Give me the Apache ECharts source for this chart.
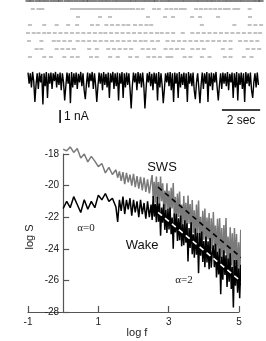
<!DOCTYPE html>
<html><head><meta charset="utf-8">
<script src="https://cdn.jsdelivr.net/npm/echarts@6/dist/echarts.min.js"></script>
<style>html,body{margin:0;padding:0;background:#fff}#c{width:266px;height:341px}</style>
</head><body><div id="c"></div>
<script>
// ---- Raster: spike times (s) per row ----
const spikeRow1 = [0.0,0.22,0.5,0.74,0.98,1.25,1.5,1.72,2.0,2.24,2.5,2.76,3.0,3.22,3.48,3.75,4.0,4.24,4.5,4.74,5.0,5.26,5.5,5.74,6.0,6.25,6.5,6.72,7.0,7.26,7.5,7.75,8.0,8.24,8.5,8.76,9.0,9.25,9.5,9.74,10.0,10.26,10.5,10.75,11.0,11.24,11.5,11.76,12.0,12.2];
const spikeRow2 = [0.25,0.55,0.75,2.3,2.5,2.7,2.9,3.1,3.3,3.5,3.7,3.9,4.1,4.3,4.5,4.7,4.9,5.1,5.3,5.5,5.75,6.0,6.6,6.85,7.25,7.5,7.75,8.0,8.2,8.8,9.05,9.3,9.55,9.8,10.05,10.3,10.5,10.8,11.0,11.6];
const spikeRow3 = [2.62,3.77,4.29,6.28,7.17,7.59,8.59,9.0,9.95,11.62];
const spikeRow4 = [0.1,0.85,1.5,2.1,2.57,3.35,3.65,4.1,4.4,4.7,5.0,5.25,5.6,5.9,6.2,6.45,9.1,10.8,11.6,11.9,12.2];
const spikeRow5 = [0.0,0.3,0.55,0.85,1.1,1.4,1.7,2.0,2.3,2.6,2.9,3.2,3.5,3.8,4.05,4.35,4.65,4.95,5.25,5.55,5.85,6.15,6.45,6.75,7.0,7.3,7.6,8.1,8.6,8.9,9.2,9.5,9.8,10.1,10.4,10.7,11.0,11.3,11.6,11.9,12.15];
const spikeRow6 = [0.05,0.7,1.35,1.6,1.9,2.2,2.6,2.9,3.2,3.5,3.8,4.1,4.4,4.7,5.0,5.3,5.6,5.9,6.15,6.5,6.8,7.3,7.6,7.9,8.2,8.5,8.8,9.1,9.4,9.7,10.0,10.3,10.6,11.1,11.4,11.7,12.0];
const spikeRow7 = [0.45,0.7,1.5,1.8,2.1,2.4,3.2,3.6,4.2,4.5,4.8,5.1,5.4,6.0,6.3,6.6,7.2,7.5,7.8,8.1,8.6,8.9,9.2,10.2,10.6,11.5,11.8,12.1];
const spikeRow8 = [0.1,0.85,1.2,1.9,2.3,2.6,3.3,3.6,4.3,4.7,5.35,5.7,6.3,6.6,6.9,7.3,7.5,8.2,8.5,9.1,9.5,10.3,10.6,11.3,11.7];

// ---- Current trace (nA), sampled every traceDt seconds ----
const traceDt = 0.06;
const traceNA = [
-0.05,-0.9,-0.1,-1.2,-0.0,-0.7,-2.3,-1.0,-0.1,-1.3,
-0.05,-0.8,-0.15,-2.5,-0.1,-1.1,-0.0,-2.0,-0.1,-0.9,
-0.05,-1.3,-0.1,-0.7,-0.0,-1.2,-0.15,-1.0,-0.05,-1.4,
-0.1,-0.8,-2.2,-1.1,-0.05,-0.9,-0.1,-2.4,-0.0,-1.2,
-0.1,-1.0,-0.05,-1.3,-0.15,-0.8,-0.0,-1.1,-0.1,-1.4,
-2.1,-0.9,-0.05,-1.2,-0.1,-0.7,-0.0,-1.3,-0.1,-1.0,
-2.3,-1.1,-0.05,-0.9,-0.1,-1.4,-0.0,-1.0,-0.15,-1.2,
-0.05,-2.0,-0.1,-0.8,-0.0,-1.3,-0.1,-1.1,-0.05,-2.2,
-0.1,-0.9,-0.0,-2.0,-0.1,-1.2,-0.05,-1.0,-0.1,-1.3,
-2.8,-1.1,-0.05,-0.8,-0.1,-1.4,-0.0,-0.9,-0.1,-1.2,
-0.05,-1.0,-2.8,-1.3,-0.1,-0.8,-0.0,-1.1,-0.15,-1.4,
-0.05,-0.9,-0.1,-2.2,-0.0,-1.2,-0.1,-1.0,-2.4,-1.3,
-0.1,-0.8,-0.05,-1.1,-0.0,-1.4,-0.1,-2.3,-0.05,-0.9,
-0.1,-2.0,-0.0,-1.2,-0.15,-1.0,-0.05,-1.3,-0.1,-2.3,
-0.0,-0.9,-0.1,-1.1,-0.05,-1.4,-2.1,-0.8,-0.1,-1.2,
-2.4,-1.0,-0.05,-1.3,-0.1,-0.9,-0.0,-2.3,-0.1,-1.1,
-0.05,-1.4,-0.1,-0.8,-0.0,-1.2,-2.2,-1.0,-0.1,-1.3,
-0.05,-0.9,-0.1,-1.1,-0.0,-1.4,-0.15,-0.8,-0.05,-2.0,
-0.1,-1.2,-0.0,-2.2,-0.1,-1.0,-0.05,-1.3,-0.1,-2.3,
-0.0,-0.9,-0.1,-1.1,-0.05,-1.4,-2.0,-0.8,-0.1,-1.2,
-0.05,-1.0];
const scaleNA = 1;     // nA
const scaleSec = 2;    // s
const scaleAnchorT = 1.68, scaleAnchorV = -2.93, secBarStart = 10.15;

// ---- Power spectra ----
const logF = [
0,0.1,0.2,0.3,0.4,0.5,0.6,0.7,0.8,0.9,1.0,1.1,1.2,1.3,1.4,1.5,
1.55,1.6,1.65,1.7,1.75,1.8,1.85,1.9,1.95,2.0,2.05,2.1,2.15,2.2,2.25,2.3,2.35,2.4,2.45,2.5,
2.53,2.56,2.59,2.62,2.65,2.68,2.71,2.74,2.77,2.80,
2.83,2.86,2.89,2.92,2.95,2.98,3.01,3.04,3.07,3.10,
3.13,3.16,3.19,3.22,3.25,3.28,3.31,3.34,3.37,3.40,
3.43,3.46,3.49,3.52,3.55,3.58,3.61,3.64,3.67,3.70,
3.73,3.76,3.79,3.82,3.85,3.88,3.91,3.94,3.97,4.00,
4.03,4.06,4.09,4.12,4.15,4.18,4.21,4.24,4.27,4.30,
4.33,4.36,4.39,4.42,4.45,4.48,4.51,4.54,4.57,4.60,
4.63,4.66,4.69,4.72,4.75,4.78,4.81,4.84,4.87,4.90,
4.93,4.96,4.99,5.02,5.05,5.08,5.11,5.14,5.17,5.20,
5.23,5.26,5.29,5.32,5.35,5.38,5.41,5.44,5.47,5.50,
5.53,5.56,5.59,5.62,5.65,5.68,5.71];
const sws = [
-17.7,-17.8,-17.55,-17.9,-17.65,-18.25,-18.0,-18.5,-18.15,-18.45,-18.8,-18.6,-19.2,-18.85,-19.3,-19.0,
-19.5,-19.1,-19.7,-19.15,-19.9,-19.2,-19.8,-19.3,-20.0,-19.25,-20.1,-19.4,-20.2,-19.45,-20.3,-19.5,-20.4,-19.6,-20.5,-19.7,
-19.33,-20.79,-19.76,-21.08,-19.42,-20.86,-19.77,-21.24,-19.42,-20.99,
-19.86,-21.56,-20.32,-21.50,-19.86,-21.51,-20.33,-22.00,-20.14,-21.44,
-19.83,-22.04,-20.71,-22.26,-20.50,-21.98,-20.38,-22.40,-21.20,-22.83,
-20.66,-22.41,-21.09,-22.85,-20.63,-22.42,-21.16,-22.97,-20.92,-22.99,
-21.56,-23.44,-21.20,-22.98,-20.95,-23.44,-21.97,-23.67,-21.60,-23.43,
-21.45,-23.90,-22.02,-23.41,-21.73,-24.39,-22.07,-24.01,-21.67,-23.87,
-22.53,-24.49,-22.10,-24.21,-22.06,-24.60,-22.68,-24.98,-22.50,-24.30,
-22.05,-24.95,-23.23,-25.20,-22.64,-25.04,-23.01,-25.57,-22.68,-24.98,
-23.06,-25.66,-23.58,-25.64,-22.80,-25.47,-23.61,-26.31,-23.27,-25.39,
-23.20,-26.26,-23.75,-26.07,-23.08,-26.33,-24.24,-26.75,-23.87,-26.09,
-23.64,-26.84,-24.36,-26.64,-23.98,-27.24,-24.40];
const wake = [
-21.45,-21.0,-21.4,-20.7,-21.2,-21.7,-20.9,-21.5,-21.0,-21.4,-20.6,-20.9,-20.5,-21.0,-20.8,-21.35,
-22.3,-20.9,-21.6,-20.7,-21.8,-20.9,-21.5,-20.8,-21.9,-20.9,-21.7,-21.0,-22.0,-20.9,-21.8,-21.1,-22.1,-21.0,-22.0,-21.2,
-22.17,-20.66,-21.96,-21.16,-22.32,-20.71,-22.28,-21.13,-23.17,-21.39,
-22.35,-21.18,-22.80,-21.52,-23.00,-21.46,-22.78,-21.39,-23.07,-22.02,
-24.00,-21.77,-22.96,-21.78,-23.51,-22.07,-23.46,-21.90,-23.84,-22.45,
-23.78,-22.20,-23.62,-22.38,-24.81,-22.68,-23.94,-22.32,-24.34,-23.08,
-24.56,-22.71,-24.38,-22.99,-25.54,-23.00,-24.43,-22.91,-24.84,-23.51,
-25.16,-23.22,-24.87,-23.52,-25.29,-23.32,-25.20,-24.24,-23.79,-25.17,
-23.68,-25.81,-24.19,-25.62,-23.99,-26.88,-24.51,-25.96,-24.09,-25.65,
-24.41,-26.41,-24.62,-26.09,-24.29,-26.54,-25.16,-27.71,-24.71,-26.33,
-24.71,-26.78,-25.25,-27.13,-25.01,-26.45,-24.77,-27.26,-25.46,-27.02,
-25.22,-28.39,-25.90,-27.38,-25.54,-27.85,-25.76,-27.37,-25.51,-27.97,
-26.20,-28.88,-25.95,-27.59,-25.92,-28.20,-26.39];
const fitX = [2.7, 5.7];
const fitSWS = [-20.1, -25.75];
const fitWake = [-21.7, -27.25];
const yTicks = {min: -28, max: -18, step: 2};
const xTicks = {min: -1, max: 5, step: 2};

// ---- build ----
const SANS = "'Liberation Sans', Arial, Helvetica, sans-serif";
const SERIF = "'Liberation Serif', 'Times New Roman', serif";
const AX = '#555';
const GRID_L = 28, GRID_R = 27;
const plotW = 266 - GRID_L - GRID_R;
const yAxisShift = -plotW * (0 - xTicks.min) / (xTicks.max - xTicks.min); // y axis sits at log f = 0
const rows = [spikeRow1, spikeRow2, spikeRow3, spikeRow4, spikeRow5, spikeRow6, spikeRow7, spikeRow8];
const series = [];
rows.forEach((r, i) => {
  series.push({
    type: 'scatter', xAxisIndex: 0, yAxisIndex: 0, silent: true,
    symbol: 'rect', symbolSize: i === 0 ? [5, 1.5] : [4, 1],
    itemStyle: {color: i === 0 ? '#333' : '#666'},
    data: r.map(t => [t, i + 1])
  });
});
series.push({
  type: 'line', xAxisIndex: 1, yAxisIndex: 1, showSymbol: false, silent: true,
  lineStyle: {color: '#000', width: 1.4}, data: traceNA.map((v, k) => [k * traceDt, v])
});
series.push({
  type: 'line', xAxisIndex: 1, yAxisIndex: 1, showSymbol: false, clip: false, silent: true,
  lineStyle: {color: '#000', width: 1.5},
  data: [[scaleAnchorT, scaleAnchorV], [scaleAnchorT, scaleAnchorV - scaleNA]]
});
series.push({
  type: 'line', xAxisIndex: 1, yAxisIndex: 1, showSymbol: false, clip: false, silent: true,
  lineStyle: {color: '#000', width: 1.5},
  data: [[secBarStart, scaleAnchorV], [secBarStart + scaleSec, scaleAnchorV]]
});
series.push({
  type: 'line', xAxisIndex: 2, yAxisIndex: 2, showSymbol: false, clip: false, silent: true,
  lineStyle: {color: '#7a7a7a', width: 1.5}, data: logF.map((f, i) => [f, sws[i]])
});
series.push({
  type: 'line', xAxisIndex: 2, yAxisIndex: 2, showSymbol: false, clip: false, silent: true,
  lineStyle: {color: '#000', width: 1.5}, data: logF.map((f, i) => [f, wake[i]])
});
series.push({
  type: 'line', xAxisIndex: 2, yAxisIndex: 2, showSymbol: false, clip: false, silent: true,
  lineStyle: {color: '#000', width: 1.6, type: [5, 4]}, data: fitX.map((f, i) => [f, fitSWS[i]])
});
series.push({
  type: 'line', xAxisIndex: 2, yAxisIndex: 2, showSymbol: false, clip: false, silent: true,
  lineStyle: {color: '#fff', width: 1.6, type: [5, 4]}, data: fitX.map((f, i) => [f, fitWake[i]])
});

const hidden = {show: false};
const option = {
  animation: false,
  grid: [
    {left: 28, top: 1, width: 235, height: 56},
    {left: 28, top: 70, width: 235, height: 39},
    {left: GRID_L, right: GRID_R, top: 154, bottom: 29}
  ],
  xAxis: [
    {gridIndex: 0, type: 'value', min: 0, max: 12.3, show: false},
    {gridIndex: 1, type: 'value', min: 0, max: 12.3, show: false},
    {gridIndex: 2, type: 'value', min: xTicks.min, max: xTicks.max, interval: xTicks.step,
     axisLine: {show: true, onZero: false, lineStyle: {color: AX, width: 1.2}},
     axisTick: {show: true, inside: true, length: 6, lineStyle: {color: AX, width: 1.2}},
     axisLabel: {margin: 5, fontSize: 10, color: '#222', fontFamily: SANS},
     splitLine: hidden}
  ],
  yAxis: [
    {gridIndex: 0, type: 'value', min: 1, max: 8, inverse: true, show: false},
    {gridIndex: 1, type: 'value', min: -2.85, max: 0.15, show: false},
    {gridIndex: 2, type: 'value', min: yTicks.min, max: yTicks.max, interval: yTicks.step,
     offset: yAxisShift,
     axisLine: {show: true, onZero: false, lineStyle: {color: AX, width: 1.2}},
     axisTick: {show: true, inside: true, length: 6, lineStyle: {color: AX, width: 1.2}},
     axisLabel: {margin: 4, fontSize: 10, color: '#222', fontFamily: SANS},
     splitLine: hidden}
  ],
  graphic: [
    {type: 'text', x: 64, y: 117, style: {text: '1 nA', font: '12px ' + SANS, fill: '#111', align: 'left', verticalAlign: 'middle'}},
    {type: 'text', x: 241, y: 121, style: {text: '2 sec', font: '12px ' + SANS, fill: '#111', align: 'center', verticalAlign: 'middle'}},
    {type: 'text', x: 162, y: 167, style: {text: 'SWS', font: '13px ' + SANS, fill: '#111', align: 'center', verticalAlign: 'middle'}},
    {type: 'text', x: 142, y: 245, style: {text: 'Wake', font: '13px ' + SANS, fill: '#111', align: 'center', verticalAlign: 'middle'}},
    {type: 'text', x: 86, y: 228, style: {text: 'α=0', font: '11px ' + SERIF, fill: '#222', align: 'center', verticalAlign: 'middle'}},
    {type: 'text', x: 184, y: 280, style: {text: 'α=2', font: '11px ' + SERIF, fill: '#222', align: 'center', verticalAlign: 'middle'}},
    {type: 'text', x: 30, y: 237, rotation: Math.PI / 2, style: {text: 'log S', font: '11px ' + SANS, fill: '#222', align: 'center', verticalAlign: 'middle'}},
    {type: 'text', x: 137, y: 333, style: {text: 'log f', font: '11px ' + SANS, fill: '#222', align: 'center', verticalAlign: 'middle'}}
  ],
  series: series
};
const chart = echarts.init(document.getElementById('c'), null, {renderer: 'canvas'});
chart.setOption(option);
</script>
</body></html>
